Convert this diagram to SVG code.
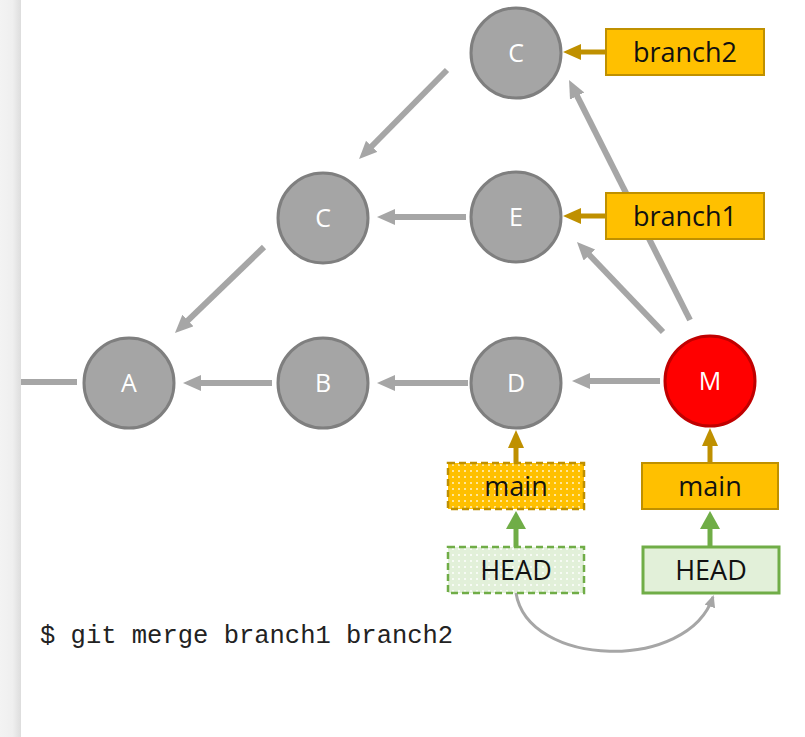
<svg xmlns="http://www.w3.org/2000/svg" width="805" height="737" viewBox="0 0 805 737">
<style>
.n circle{fill:#a5a5a5;stroke:#7f7f7f;stroke-width:3}
.n text{font-family:"Open Sans","Liberation Sans",sans-serif;font-size:25px;fill:#fff;text-anchor:middle}
.b text{font-family:"Open Sans","Liberation Sans",sans-serif;font-size:27px;fill:#111;text-anchor:middle}
.gold{fill:#ffc000;stroke:#bf9000;stroke-width:2}
.grn{fill:#e2f0d9;stroke:#70ad47;stroke-width:3}
.g{stroke:#a6a6a6;stroke-width:6;fill:none}
.y{stroke:#bf9000;stroke-width:5;fill:none}
.h{stroke:#70ad47;stroke-width:5;fill:none}
</style>
<defs>
<linearGradient id="bar" x1="0" x2="1" y1="0" y2="0">
<stop offset="0" stop-color="#f3f3f3"/>
<stop offset="0.6" stop-color="#efefef"/>
<stop offset="1" stop-color="#dddddd"/>
</linearGradient>
<pattern id="dotY" width="6" height="6" patternUnits="userSpaceOnUse">
<rect width="6" height="6" fill="#ffc000"/>
<circle cx="3" cy="3" r="1" fill="#fff3cc"/>
</pattern>
<pattern id="dotG" width="6" height="6" patternUnits="userSpaceOnUse">
<rect width="6" height="6" fill="#e2f0d9"/>
<circle cx="3" cy="3" r="1" fill="#ffffff"/>
</pattern>
<marker id="ag" markerUnits="userSpaceOnUse" markerWidth="20" markerHeight="18" refX="1" refY="8" orient="auto">
<path d="M0,0 L18,8 L0,16 z" fill="#a6a6a6"/>
</marker>
<marker id="ay" markerUnits="userSpaceOnUse" markerWidth="20" markerHeight="18" refX="1" refY="8" orient="auto">
<path d="M0,0 L18,8 L0,16 z" fill="#bf9000"/>
</marker>
<marker id="ah" markerUnits="userSpaceOnUse" markerWidth="22" markerHeight="22" refX="1" refY="10" orient="auto">
<path d="M0,0 L18,10 L0,20 z" fill="#70ad47"/>
</marker>
<marker id="ac" markerUnits="userSpaceOnUse" markerWidth="14" markerHeight="12" refX="10" refY="5.5" orient="auto">
<path d="M0,0 L12,5.5 L0,11 z" fill="#a6a6a6"/>
</marker>
</defs>
<rect width="805" height="737" fill="#fff"/>
<rect x="0" y="0" width="21" height="737" fill="url(#bar)"/>

<g id="connectors">
<line class="g" x1="21" y1="382" x2="77" y2="382"/>
<line class="g" x1="272" y1="383" x2="200" y2="383" marker-end="url(#ag)"/>
<line class="g" x1="468" y1="383" x2="394" y2="383" marker-end="url(#ag)"/>
<line class="g" x1="660" y1="381" x2="589" y2="381" marker-end="url(#ag)"/>
<line class="g" x1="466" y1="217" x2="394" y2="217" marker-end="url(#ag)"/>
<line class="g" x1="447" y1="70" x2="371" y2="147" marker-end="url(#ag)"/>
<line class="g" x1="264" y1="247" x2="187.2" y2="321.2" marker-end="url(#ag)"/>
<line class="g" x1="663" y1="332" x2="588.7" y2="254.3" marker-end="url(#ag)"/>
<line class="g" x1="690" y1="320" x2="576.7" y2="95.2" marker-end="url(#ag)"/>
<line class="y" x1="606" y1="52" x2="580" y2="52" marker-end="url(#ay)"/>
<line class="y" x1="606" y1="216" x2="580" y2="216" marker-end="url(#ay)"/>
<line class="y" x1="516" y1="463" x2="516" y2="447" marker-end="url(#ay)"/>
<line class="y" x1="710" y1="463" x2="710" y2="445" marker-end="url(#ay)"/>
<line class="h" x1="516" y1="547" x2="516" y2="528" marker-end="url(#ah)"/>
<line class="h" x1="710" y1="547" x2="710" y2="528" marker-end="url(#ah)"/>
<path d="M516,593 C528,668 688,672 713,597" stroke="#a6a6a6" stroke-width="3" fill="none" marker-end="url(#ac)"/>
</g>

<g id="nodeCtop" class="n"><circle cx="516" cy="53" r="45"/><text x="516" y="62">C</text></g>
<g id="nodeCmid" class="n"><circle cx="323" cy="218" r="45"/><text x="323" y="227">C</text></g>
<g id="nodeE" class="n"><circle cx="516" cy="217" r="45"/><text x="516" y="226">E</text></g>
<g id="nodeA" class="n"><circle cx="129" cy="383" r="45"/><text x="129" y="392">A</text></g>
<g id="nodeB" class="n"><circle cx="323" cy="383" r="45"/><text x="323" y="392">B</text></g>
<g id="nodeD" class="n"><circle cx="516" cy="383" r="45"/><text x="516" y="392">D</text></g>
<g id="nodeM" class="n"><circle cx="710" cy="381" r="45" style="fill:#ff0000;stroke:#c00000"/><text x="710" y="390">M</text></g>

<g id="branch2" class="b"><rect class="gold" x="606" y="29" width="158" height="46"/><text x="685" y="62">branch2</text></g>
<g id="branch1" class="b"><rect class="gold" x="606" y="193" width="158" height="46"/><text x="685" y="226">branch1</text></g>
<g id="mainOld" class="b"><rect x="448" y="463" width="136" height="46" fill="url(#dotY)" stroke="#bf9000" stroke-width="2.5" stroke-dasharray="7,4"/><text x="516" y="496">main</text></g>
<g id="headOld" class="b"><rect x="448" y="547" width="136" height="46" fill="url(#dotG)" stroke="#70ad47" stroke-width="2.5" stroke-dasharray="7,4"/><text x="516" y="580">HEAD</text></g>
<g id="mainNew" class="b"><rect class="gold" x="642" y="463" width="136" height="46"/><text x="710" y="496">main</text></g>
<g id="headNew" class="b"><rect class="grn" x="643" y="547" width="136" height="46"/><text x="711" y="580">HEAD</text></g>

<text x="40" y="643" font-family="'Liberation Mono',monospace" font-size="25.5" fill="#222">$ git merge branch1 branch2</text>
</svg>
